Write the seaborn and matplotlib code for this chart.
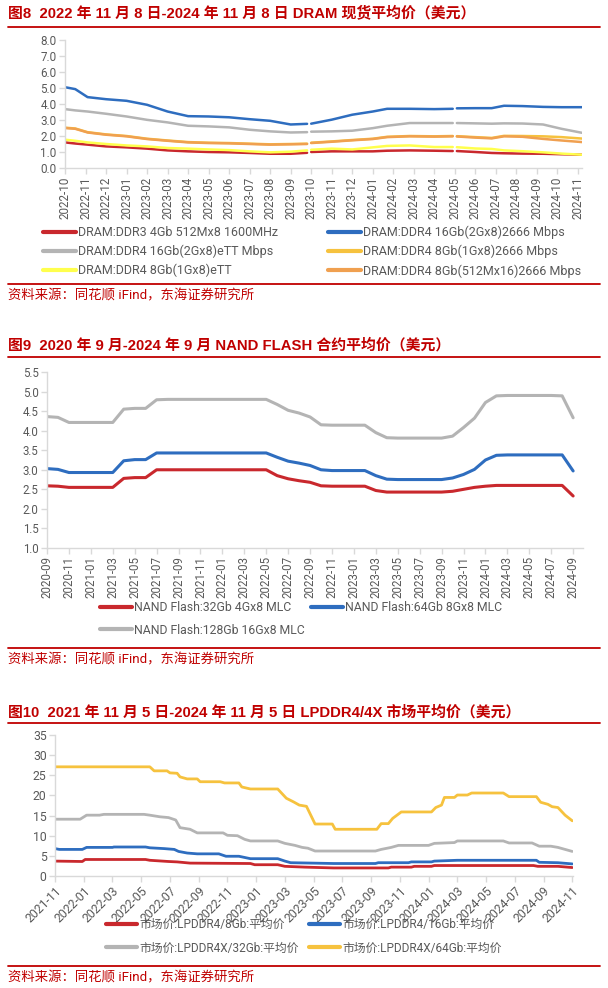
import numpy as np
import pandas as pd
import matplotlib
matplotlib.use("Agg")
import matplotlib.pyplot as plt
import seaborn as sns
from matplotlib.lines import Line2D

nan = np.nan

# ---------------- 图8 DRAM spot average price ----------------
# x = months counted from the 2022-10 tick
dram_ticks = pd.period_range("2022-10", "2024-11", freq="M").strftime("%Y-%m").tolist()
dram_x = [0, 0.5, 1.1, 2, 3, 4, 5, 6, 7, 8, 9, 10, 11, 11.8, 11.9, 12, 13, 14, 15, 15.7,
          16.8, 18, 18.9, 19.0, 19.1, 20, 20.8, 21.4, 22.3, 23.3, 24.2, 25.2]
ddr3_4gb = [1.60, 1.53, 1.46, 1.35, 1.29, 1.21, 1.10, 1.04, 1.00, 0.98, 0.94, 0.89, 0.89, 0.95, nan, 1.00,
            1.04, 1.04, 1.04, 1.08, 1.10, 1.08, 1.06, nan, 1.06, 1.00, 0.94, 0.92, 0.90, 0.89, 0.86, 0.83]
ddr4_16gb_2666 = [5.05, 4.93, 4.43, 4.30, 4.20, 3.95, 3.53, 3.24, 3.22, 3.17, 3.05, 2.95, 2.72, 2.76, nan, 2.77,
                  3.02, 3.33, 3.53, 3.70, 3.70, 3.68, 3.70, nan, 3.73, 3.74, 3.74, 3.89, 3.87, 3.82, 3.80, 3.80]
ddr4_16gb_ett = [3.68, 3.60, 3.53, 3.39, 3.22, 3.01, 2.85, 2.64, 2.60, 2.54, 2.39, 2.29, 2.22, 2.24, nan, 2.27,
                 2.29, 2.33, 2.49, 2.64, 2.81, 2.81, 2.81, nan, 2.81, 2.79, 2.77, 2.79, 2.78, 2.72, 2.45, 2.20]
ddr4_8gb_2666 = [2.52, 2.47, 2.24, 2.10, 2.00, 1.83, 1.72, 1.62, 1.58, 1.56, 1.52, 1.48, 1.50, 1.52, nan, 1.58,
                 1.66, 1.75, 1.83, 1.95, 2.00, 1.98, 2.00, nan, 1.99, 1.93, 1.88, 2.01, 2.00, 1.98, 1.93, 1.84]
ddr4_8gb_ett = [1.77, 1.70, 1.60, 1.50, 1.41, 1.35, 1.25, 1.21, 1.16, 1.12, 1.04, 0.98, 1.02, 1.10, nan, 1.14,
                1.21, 1.16, 1.29, 1.38, 1.41, 1.31, 1.31, nan, 1.30, 1.22, 1.19, 1.10, 1.05, 0.98, 0.90, 0.83]
ddr4_8gb_x16 = [2.50, 2.45, 2.22, 2.08, 1.98, 1.81, 1.70, 1.60, 1.56, 1.54, 1.50, 1.46, 1.48, 1.50, nan, 1.56,
                1.64, 1.73, 1.81, 1.93, 1.98, 1.96, 1.98, nan, 1.97, 1.90, 1.85, 1.98, 1.95, 1.82, 1.72, 1.62]

# ---------------- 图9 NAND FLASH contract price (monthly, 2020-09 .. 2024-09) ----------------
nand_ticks = pd.period_range("2020-09", "2024-09", freq="2M").strftime("%Y-%m").tolist()
nand_32gb = [2.59, 2.58, 2.55, 2.55, 2.55, 2.55, 2.55, 2.78, 2.80, 2.80, 3.00, 3.00, 3.00, 3.00, 3.00,
             3.00, 3.00, 3.00, 3.00, 3.00, 3.00, 2.85, 2.77, 2.72, 2.68, 2.59, 2.58, 2.58, 2.58, 2.58,
             2.47, 2.43, 2.43, 2.43, 2.43, 2.43, 2.43, 2.45, 2.50, 2.55, 2.58, 2.60, 2.60, 2.60, 2.60,
             2.60, 2.60, 2.60, 2.33]
nand_64gb = [3.03, 3.01, 2.93, 2.93, 2.93, 2.93, 2.93, 3.23, 3.26, 3.26, 3.43, 3.43, 3.43, 3.43, 3.43,
             3.43, 3.43, 3.43, 3.43, 3.43, 3.43, 3.32, 3.22, 3.17, 3.11, 3.00, 2.98, 2.98, 2.98, 2.98,
             2.85, 2.76, 2.75, 2.75, 2.75, 2.75, 2.75, 2.79, 2.88, 3.01, 3.25, 3.37, 3.38, 3.38, 3.38,
             3.38, 3.38, 3.38, 2.97]
nand_128gb = [4.36, 4.34, 4.21, 4.21, 4.21, 4.21, 4.21, 4.55, 4.57, 4.57, 4.79, 4.80, 4.80, 4.80, 4.80,
              4.80, 4.80, 4.80, 4.80, 4.80, 4.80, 4.67, 4.52, 4.45, 4.35, 4.15, 4.14, 4.14, 4.14, 4.14,
              3.95, 3.82, 3.81, 3.81, 3.81, 3.81, 3.81, 3.86, 4.08, 4.32, 4.72, 4.89, 4.90, 4.90, 4.90,
              4.90, 4.90, 4.89, 4.33]

# ---------------- 图10 LPDDR4/4X market price ----------------
# x = months counted from the 2021-11 tick
lp_ticks = pd.period_range("2021-11", "2024-11", freq="2M").strftime("%Y-%m").tolist()
lp8_x = [0, 1.9, 2.1, 6.3, 6.6, 7.9, 8.5, 9.4, 13.6, 13.9, 15.5, 16.0, 17.4, 19.4, 23.2, 23.4,
         24.8, 25.0, 26.2, 26.4, 33.3, 33.6, 35.0, 36.0]
lp8_y = [3.7, 3.6, 4.1, 4.1, 3.9, 3.6, 3.5, 3.2, 3.1, 2.8, 2.8, 2.4, 2.2, 2.0, 2.0, 2.2,
         2.2, 2.4, 2.4, 2.6, 2.6, 2.4, 2.4, 2.1]
lp16_x = [0, 0.3, 1.9, 2.2, 4.0, 4.1, 6.3, 6.6, 7.6, 8.3, 8.6, 9.2, 9.9, 11.4, 11.9, 12.8, 13.2,
          13.6, 15.5, 16.0, 16.4, 19.4, 22.3, 22.5, 24.6, 24.8, 26.2, 26.4, 28.0, 33.5, 33.7, 35.0, 36.0]
lp16_y = [6.8, 6.6, 6.6, 7.1, 7.1, 7.2, 7.2, 7.0, 6.8, 6.6, 6.1, 5.7, 5.5, 5.5, 4.9, 4.9, 4.6,
          4.3, 4.3, 3.7, 3.3, 3.1, 3.1, 3.3, 3.3, 3.5, 3.5, 3.7, 3.9, 3.9, 3.4, 3.3, 3.0]
lp32_x = [0, 1.75, 2.2, 3.1, 3.4, 6.2, 6.6, 7.3, 7.9, 8.4, 8.7, 9.4, 9.9, 11.7, 12.0, 12.7, 13.2,
          13.6, 15.5, 16.0, 16.7, 17.2, 17.6, 18.1, 22.3, 22.7, 23.4, 23.9, 26.0, 26.4, 27.8, 28.0,
          31.2, 31.6, 33.2, 33.7, 34.5, 35.0, 35.5, 36.0]
lp32_y = [14.1, 14.1, 15.1, 15.1, 15.3, 15.3, 15.1, 14.7, 14.5, 13.9, 12.0, 11.6, 10.7, 10.7, 10.1,
          10.0, 9.1, 8.7, 8.7, 8.1, 7.6, 7.1, 6.9, 6.2, 6.2, 6.6, 7.1, 7.6, 7.6, 8.1, 8.3, 8.7,
          8.7, 8.2, 8.2, 7.4, 7.4, 7.1, 6.6, 6.1]
lp64_x = [0, 6.6, 6.9, 7.8, 8.0, 8.5, 8.7, 9.2, 9.9, 10.1, 11.5, 11.8, 12.8, 13.0, 13.6, 15.5,
          16.1, 16.6, 17.0, 17.5, 18.1, 19.3, 19.5, 22.4, 22.7, 23.2, 23.5, 24.1, 26.2, 26.5, 26.9,
          27.1, 27.8, 28.0, 28.7, 29.0, 31.2, 31.6, 33.5, 33.8, 34.3, 34.6, 35.0, 35.5, 36.0]
lp64_y = [27.1, 27.1, 26.1, 26.1, 25.6, 25.5, 24.6, 24.1, 24.1, 23.4, 23.4, 23.1, 23.1, 22.1, 21.6,
          21.6, 19.3, 18.4, 17.6, 17.3, 12.9, 12.9, 11.6, 11.6, 13.0, 13.0, 14.3, 15.9, 15.9, 17.0,
          17.6, 19.5, 19.5, 20.1, 20.1, 20.6, 20.6, 19.7, 19.7, 18.3, 17.8, 17.2, 17.0, 15.1, 13.7]

RED = "#c00000"
LINE_RED = "#c9282d"
BLUE = "#2e6dbf"
GRAY = "#b4b4b4"
GOLD = "#f6c23e"
LYELLOW = "#ffff4d"
ORANGE = "#f0a050"
TICK_C = "#595959"
AX_C = "#d9d9d9"
W, H = 608, 988

sns.set_theme(style="white")
plt.rcParams["font.family"] = ["Roboto", "Noto Sans CJK SC", "DejaVu Sans"]
TITLE_FONT = ["Liberation Sans", "Noto Sans CJK SC", "DejaVu Sans"]

fig = plt.figure(figsize=(W / 100, H / 100), dpi=100)


def px_axes(l, t, r, b):
    return fig.add_axes([l / W, 1 - b / H, (r - l) / W, (b - t) / H])


def style_axes(ax, fs):
    for s in ("top", "right"):
        ax.spines[s].set_visible(False)
    for s in ("left", "bottom"):
        ax.spines[s].set_color(AX_C)
        ax.spines[s].set_linewidth(1)
    ax.tick_params(axis="both", colors=AX_C, labelcolor=TICK_C, labelsize=fs,
                   length=4, width=1, direction="out", pad=2)
    ax.tick_params(axis="both", which="both", bottom=True, left=True)
    ax.set_xlabel("")
    ax.set_ylabel("")


def header(y_title, y_rule, text):
    fig.text(8 / W, 1 - y_title / H, text, color=RED, fontsize=10.7, fontweight="bold",
             va="center", ha="left", family=TITLE_FONT)
    fig.add_artist(Line2D([8 / W, 600 / W], [1 - y_rule / H] * 2, color=RED, lw=1.3))


def source(y_rule, y_text):
    fig.add_artist(Line2D([8 / W, 600 / W], [1 - y_rule / H] * 2, color=RED, lw=1.3))
    fig.text(8 / W, 1 - y_text / H, "资料来源：同花顺 iFind，东海证券研究所", color=RED,
             fontsize=9.6, va="center", ha="left")


def legend(ax, items, x, y, fs, colsp, rowsp):
    handles = [Line2D([], [], color=c, lw=3) for _, c in items]
    ax.legend(handles, [t for t, _ in items], loc="upper left",
              bbox_to_anchor=(x / W, 1 - y / H), bbox_transform=fig.transFigure,
              ncol=2, frameon=False, fontsize=fs, handlelength=2.6, handletextpad=0.2,
              columnspacing=colsp, labelspacing=rowsp, borderpad=0, borderaxespad=0,
              labelcolor=TICK_C)


# ---------- panel 1 ----------
header(14, 27, "图8  2022 年 11 月 8 日-2024 年 11 月 8 日 DRAM 现货平均价（美元）")
ax1 = px_axes(65, 40, 582, 168)
dram_series = [
    ("DRAM:DDR3 4Gb 512Mx8 1600MHz", ddr3_4gb, LINE_RED),
    ("DRAM:DDR4 16Gb(2Gx8)2666 Mbps", ddr4_16gb_2666, BLUE),
    ("DRAM:DDR4 16Gb(2Gx8)eTT Mbps", ddr4_16gb_ett, GRAY),
    ("DRAM:DDR4 8Gb(1Gx8)2666 Mbps", ddr4_8gb_2666, GOLD),
    ("DRAM:DDR4 8Gb(1Gx8)eTT", ddr4_8gb_ett, LYELLOW),
    ("DRAM:DDR4 8Gb(512Mx16)2666 Mbps", ddr4_8gb_x16, ORANGE),
]
for name, vals, c in dram_series:
    seg = pd.DataFrame({"x": dram_x, "y": vals})
    seg["part"] = seg["y"].isna().cumsum()
    seg = seg.dropna()
    for _, part in seg.groupby("part"):
        sns.lineplot(data=part, x="x", y="y", color=c, lw=1.8, ax=ax1, sort=False,
                     estimator=None)
ax1.set_xlim(0, 25.2)
ax1.set_ylim(0, 8)
ax1.set_yticks(np.arange(0, 8.01, 1))
ax1.set_yticklabels([f"{v:.1f}" for v in np.arange(0, 8.01, 1)])
ax1.set_xticks(range(len(dram_ticks)))
ax1.set_xticklabels(dram_ticks, rotation=90)
style_axes(ax1, 8.4)
order = [0, 2, 4, 1, 3, 5]
legend(ax1, [(dram_series[i][0], dram_series[i][2]) for i in order], 43, 226, 9, 4.0, 0.45)
source(284, 296)

# ---------- panel 2 ----------
header(345, 357, "图9  2020 年 9 月-2024 年 9 月 NAND FLASH 合约平均价（美元）")
ax2 = px_axes(47, 372, 583, 548)
nand_x = list(range(len(nand_32gb)))
nand_series = [
    ("NAND Flash:32Gb 4Gx8 MLC", nand_32gb, LINE_RED),
    ("NAND Flash:64Gb 8Gx8 MLC", nand_64gb, BLUE),
    ("NAND Flash:128Gb 16Gx8 MLC", nand_128gb, GRAY),
]
for name, vals, c in nand_series:
    sns.lineplot(x=nand_x, y=vals, color=c, lw=2.2, ax=ax2)
ax2.set_xlim(0, 48.9)
ax2.set_ylim(1.0, 5.5)
ax2.set_yticks(np.arange(1.0, 5.51, 0.5))
ax2.set_yticklabels([f"{v:.1f}" for v in np.arange(1.0, 5.51, 0.5)])
ax2.set_xticks(range(0, len(nand_32gb), 2))
ax2.set_xticklabels(nand_ticks, rotation=90)
style_axes(ax2, 8.3)
legend(ax2, [(nand_series[i][0], nand_series[i][2]) for i in (0, 2, 1)], 100, 601, 8.8, 0.5, 0.8)
source(648, 660)

# ---------- panel 3 ----------
header(712, 723, "图10  2021 年 11 月 5 日-2024 年 11 月 5 日 LPDDR4/4X 市场平均价（美元）")
ax3 = px_axes(55, 735, 573, 876)
lp_series = [
    ("市场价:LPDDR4/8Gb:平均价", lp8_x, lp8_y, LINE_RED),
    ("市场价:LPDDR4/16Gb:平均价", lp16_x, lp16_y, BLUE),
    ("市场价:LPDDR4X/32Gb:平均价", lp32_x, lp32_y, GRAY),
    ("市场价:LPDDR4X/64Gb:平均价", lp64_x, lp64_y, GOLD),
]
for name, xs, ys, c in lp_series:
    sns.lineplot(x=xs, y=ys, color=c, lw=2.0, ax=ax3, sort=False, estimator=None)
ax3.set_xlim(0, 36.05)
ax3.set_ylim(0, 35)
ax3.set_yticks(range(0, 36, 5))
ax3.set_xticks(range(0, 37, 2))
ax3.set_xticklabels(lp_ticks, rotation=45, ha="right", rotation_mode="anchor")
style_axes(ax3, 8.8)
legend(ax3, [(lp_series[i][0], lp_series[i][3]) for i in (0, 2, 1, 3)], 106, 918, 8.5, 0.9, 0.9)
source(966, 978)

fig.savefig("out.png", dpi=100)
